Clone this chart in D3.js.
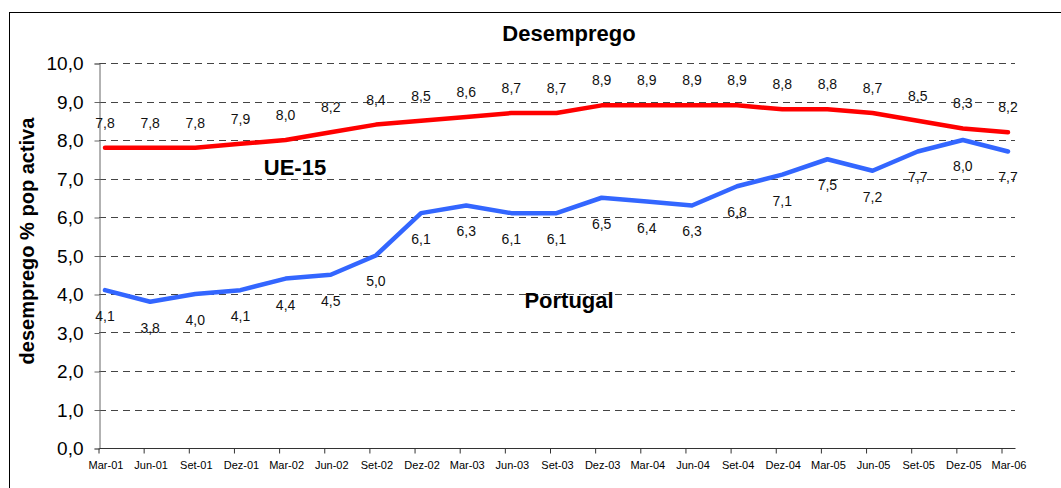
<!DOCTYPE html>
<html>
<head>
<meta charset="utf-8">
<script src="https://cdn.jsdelivr.net/npm/d3@7"></script>
<style>
  html, body { margin: 0; padding: 0; background: #fff; }
  svg { display: block; font-family: Arial, "Liberation Sans", sans-serif; }
</style>
</head>
<body>
<div id="chart"></div>
<script>
// dados
const categories = ['Mar-01','Jun-01','Set-01','Dez-01','Mar-02','Jun-02','Set-02','Dez-02',
  'Mar-03','Jun-03','Set-03','Dez-03','Mar-04','Jun-04','Set-04','Dez-04',
  'Mar-05','Jun-05','Set-05','Dez-05','Mar-06'];
const ue15 = [7.8,7.8,7.8,7.9,8.0,8.2,8.4,8.5,8.6,8.7,8.7,8.9,8.9,8.9,8.9,8.8,8.8,8.7,8.5,8.3,8.2];
const portugal = [4.1,3.8,4.0,4.1,4.4,4.5,5.0,6.1,6.3,6.1,6.1,6.5,6.4,6.3,6.8,7.1,7.5,7.2,7.7,8.0,7.7];
const yTicks = [0,1,2,3,4,5,6,7,8,9,10];

const W = 1061, H = 488;
const plot = { left: 99, right: 1015, top: 63, bottom: 448 };
const fmt = d => d.toFixed(1).replace('.', ',');

const svg = d3.select('#chart').append('svg').attr('width', W).attr('height', H);

// moldura exterior (cortada à direita e em baixo)
svg.append('rect').attr('x', 9.5).attr('y', 12.5).attr('width', W + 10).attr('height', H + 10)
  .attr('fill', 'none').attr('stroke', '#000').attr('stroke-width', 1);

const x = d3.scalePoint().domain(categories).range([105, 1008]);
const y = d3.scaleLinear().domain([0, 10]).range([plot.bottom, plot.top]);

// grelha tracejada
svg.append('g').selectAll('line').data(yTicks.filter(d => d > 0)).join('line')
  .attr('x1', plot.left).attr('x2', plot.right)
  .attr('y1', d => Math.round(y(d)) + 0.5).attr('y2', d => Math.round(y(d)) + 0.5)
  .attr('stroke', '#444').attr('stroke-width', 1).attr('stroke-dasharray', '7,5');

// eixo Y
const gy = svg.append('g').attr('transform', `translate(${plot.left + 0.5},0.5)`)
  .call(d3.axisLeft(y).tickValues(yTicks).tickFormat(fmt).tickSize(5).tickPadding(11));
gy.select('.domain').attr('stroke', '#666');
gy.selectAll('.tick line').attr('stroke', '#666');
gy.selectAll('.tick text').attr('font-size', 19).attr('fill', '#000');

// eixo X
const gx = svg.append('g').attr('transform', `translate(0.5,${plot.bottom + 0.5})`)
  .call(d3.axisBottom(x).tickSize(5).tickPadding(8));
gx.select('.domain').attr('d', `M${plot.left},0H${plot.right}`).attr('stroke', '#333');
gx.selectAll('.tick line').attr('x1', -7).attr('x2', -7).attr('stroke', '#333');
gx.selectAll('.tick text').attr('font-size', 11).attr('fill', '#000');

// linhas
const line = d3.line().x((d, i) => x(categories[i])).y(d => y(d));
svg.append('path').datum(ue15).attr('d', line)
  .attr('fill', 'none').attr('stroke', '#ff0000').attr('stroke-width', 4.5)
  .attr('stroke-linejoin', 'round').attr('stroke-linecap', 'round');
svg.append('path').datum(portugal).attr('d', line)
  .attr('fill', 'none').attr('stroke', '#3366ff').attr('stroke-width', 4.5)
  .attr('stroke-linejoin', 'round').attr('stroke-linecap', 'round');

// rótulos de dados
svg.append('g').selectAll('text').data(ue15).join('text')
  .attr('x', (d, i) => x(categories[i])).attr('y', d => y(d) - 25)
  .attr('dy', '0.35em').attr('text-anchor', 'middle')
  .attr('font-size', 14).attr('fill', '#111').text(fmt);
svg.append('g').selectAll('text').data(portugal).join('text')
  .attr('x', (d, i) => x(categories[i])).attr('y', d => y(d) + 26)
  .attr('dy', '0.35em').attr('text-anchor', 'middle')
  .attr('font-size', 14).attr('fill', '#111').text(fmt);

// títulos
svg.append('text').attr('x', 569).attr('y', 41).attr('text-anchor', 'middle')
  .attr('font-size', 22).attr('font-weight', 'bold').text('Desemprego');
svg.append('text').attr('x', 295).attr('y', 175).attr('text-anchor', 'middle')
  .attr('font-size', 22).attr('font-weight', 'bold').text('UE-15');
svg.append('text').attr('x', 569).attr('y', 308).attr('text-anchor', 'middle')
  .attr('font-size', 22).attr('font-weight', 'bold').text('Portugal');
svg.append('text').attr('transform', 'translate(34,241) rotate(-90)').attr('text-anchor', 'middle')
  .attr('font-size', 20).attr('font-weight', 'bold').text('desemprego % pop activa');
</script>
</body>
</html>
